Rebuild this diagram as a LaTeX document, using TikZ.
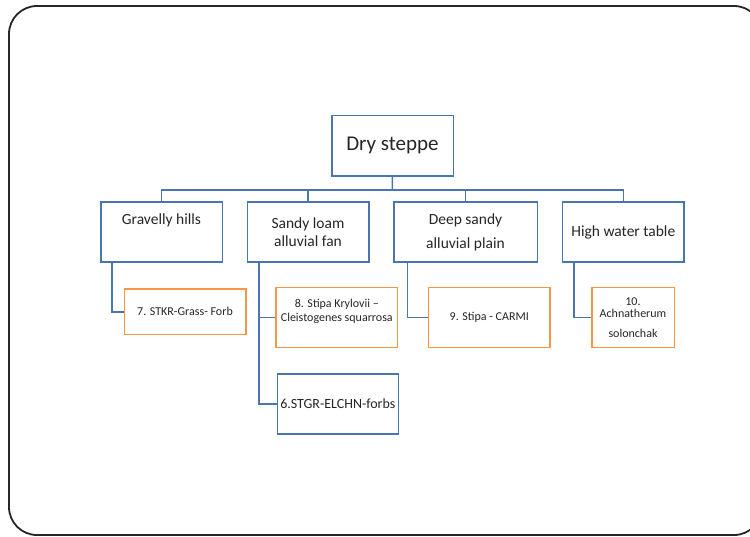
\documentclass[tikz,border=0pt]{standalone}
\usepackage{fontspec}
\setmainfont{Carlito}
\usetikzlibrary{calc}
\definecolor{blu}{HTML}{4A76B0}
\definecolor{org}{HTML}{F79646}
\definecolor{txt}{HTML}{262626}
\begin{document}
\begin{tikzpicture}[x=1pt,y=-1pt,
  box/.style={line width=1.6pt,fill=white,inner sep=0pt,align=center,text=txt},
  bluebox/.style={box,draw=blu},
  orgbox/.style={box,draw=org},
  conn/.style={draw=blu,line width=1.5pt},
  topfont/.style={font=\fontsize{21}{25}\selectfont},
  midfont/.style={font=\fontsize{15.5}{18.6}\selectfont},
  smallfont/.style={font=\fontsize{12}{14.4}\selectfont}]
\useasboundingbox (0,0) rectangle (750,536);
\draw[rounded corners=28pt,line width=1.8pt,draw=black!85] (9,6) rectangle (762,535);

\node[bluebox,topfont,minimum width=121.6pt,minimum height=60.3pt] (ds) at (392.5,145.8) {Dry steppe};

\node[bluebox,midfont,minimum width=121.6pt,minimum height=60pt] (gh) at (161.5,232) {Gravelly hills\\[8pt]\mbox{}};
\node[bluebox,midfont,minimum width=121.4pt,minimum height=60pt] (sl) at (308,232) {Sandy loam\\alluvial fan};
\node[bluebox,midfont,minimum width=143.6pt,minimum height=60pt] (dp) at (465.5,232) {Deep sandy\\[5.4pt]alluvial plain};
\node[bluebox,midfont,minimum width=121.3pt,minimum height=60pt] (hw) at (623.3,232) {High water table};

\node[orgbox,smallfont,minimum width=121.4pt,minimum height=45.7pt] (b7) at (185,311.8) {7. STKR-Grass- Forb};
\node[orgbox,smallfont,minimum width=121.7pt,minimum height=60pt] (b8) at (336.8,317.3) {8. Stipa Krylovii \textendash\\Cleistogenes squarrosa\\\mbox{}};
\node[orgbox,smallfont,minimum width=121.3pt,minimum height=60pt] (b9) at (489.3,317.3) {9. Stipa - CARMI};
\node[orgbox,smallfont,minimum width=82.6pt,minimum height=60pt] (b10) at (633,317.3) {10.\\[-2pt]Achnatherum\\[5pt]solonchak};
\node[bluebox,font=\fontsize{14}{16.8}\selectfont,minimum width=121pt,minimum height=60pt] (b6) at (337.8,404) {6.STGR-ELCHN-forbs};

\coordinate (bus) at (392.3,190);
\draw[conn] (ds.south) -- (bus);
\draw[conn] (gh.north) |- (bus) -| (hw.north);
\draw[conn] (sl.north) -- (sl.north |- bus);
\draw[conn] (dp.north) -- (dp.north |- bus);

\coordinate (ghx) at ($(gh.south west)+(12,0)$);
\coordinate (slx) at ($(sl.south west)+(12.7,0)$);
\coordinate (dpx) at ($(dp.south west)+(14.6,0)$);
\coordinate (hwx) at ($(hw.south west)+(12.3,0)$);
\draw[conn] (ghx) |- (b7.west);
\draw[conn] (slx) |- (b6.west);
\draw[conn] (slx |- b8.west) -- (b8.west);
\draw[conn] (dpx) |- (b9.west);
\draw[conn] (hwx) |- (b10.west);
\end{tikzpicture}
\end{document}
